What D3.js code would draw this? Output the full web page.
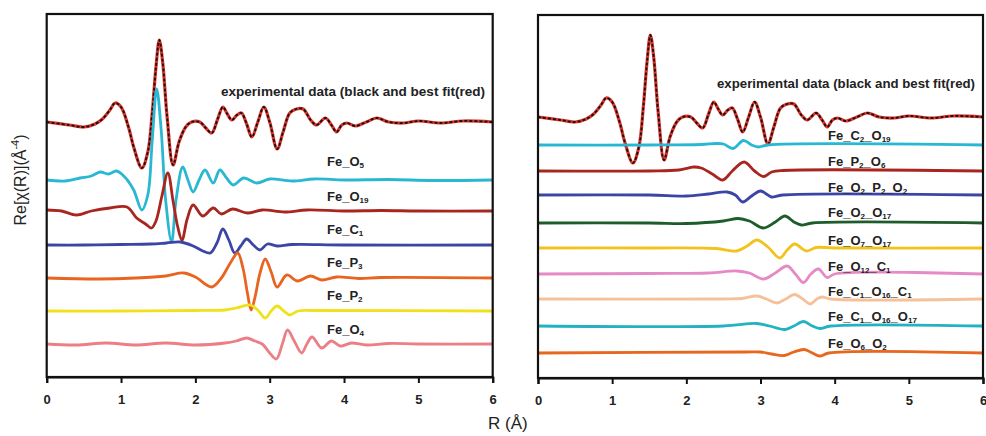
<!DOCTYPE html>
<html><head><meta charset="utf-8">
<script src="https://cdn.jsdelivr.net/npm/d3@7"></script>
<style>body{margin:0;background:#fff}svg{display:block;background:#fff}</style>
</head><body><svg id="c" width="986" height="436"></svg>
<script>
// ---------- data ----------
const rTicks = [0, 1, 2, 3, 4, 5, 6];

// experimental data / best fit (same in both panels)
const expData = [[0,0],[0.3,-0.3],[0.5,-0.5],[0.65,-0.2],[0.75,0.3],[0.85,1.2],[0.92,1.9],[1.0,1.5],[1.1,-0.5],[1.17,-2.5],[1.28,-4.6],[1.36,-3.0],[1.42,1.0],[1.47,5.5],[1.515,8.2],[1.56,6.0],[1.62,0.5],[1.70,-4.3],[1.78,-2.0],[1.87,-0.5],[1.95,0.0],[2.06,0.0],[2.14,-0.6],[2.22,-1.1],[2.30,0.3],[2.37,1.5],[2.43,0.8],[2.49,0.2],[2.56,0.7],[2.62,0.9],[2.69,-0.2],[2.76,-1.5],[2.84,0.0],[2.92,1.5],[3.0,0.0],[3.10,-2.7],[3.18,-1.0],[3.27,0.9],[3.36,1.3],[3.45,1.3],[3.55,0.2],[3.63,-0.3],[3.75,0.4],[3.83,-0.3],[3.90,-1.0],[3.97,-0.3],[4.04,-0.1],[4.15,-0.4],[4.3,0.0],[4.44,0.4],[4.6,0.0],[4.8,-0.1],[5.0,0.1],[5.3,-0.1],[5.6,0.1],[6.0,0.0]];

// left panel paths
const feO5  = [[0,0],[0.25,-0.1],[0.45,0.2],[0.6,0.4],[0.72,0.8],[0.83,0.6],[0.94,0.9],[1.05,0.3],[1.17,-1.0],[1.28,-3.0],[1.36,-1.5],[1.42,4.0],[1.48,9.1],[1.54,5.0],[1.60,-2.0],[1.68,-6.2],[1.74,-2.0],[1.83,1.3],[1.90,0.0],[1.97,-1.2],[2.05,0.0],[2.13,1.0],[2.24,-0.3],[2.33,1.0],[2.42,0.2],[2.51,-0.5],[2.65,0.2],[2.83,-0.3],[3.0,0.1],[3.3,-0.1],[3.6,0.1],[4.0,0.0],[4.6,0.05],[5.2,-0.05],[6.0,0.0]];
const feO19 = [[0,0.1],[0.2,0.0],[0.4,-0.4],[0.6,0.0],[0.85,0.3],[1.08,0.4],[1.21,-0.7],[1.33,-1.3],[1.41,-1.7],[1.47,-1.0],[1.55,1.5],[1.63,3.8],[1.70,1.0],[1.76,-1.5],[1.82,-2.9],[1.89,-0.8],[1.97,0.6],[2.1,-0.5],[2.24,0.3],[2.35,-0.3],[2.5,0.2],[2.7,-0.2],[2.9,0.1],[3.2,-0.1],[3.5,0.1],[4.0,0.0],[4.5,0.05],[5.0,0.0],[6.0,0.0]];
const feC1  = [[0,0],[0.5,0],[1.0,0.05],[1.4,0.1],[1.61,0.2],[1.8,0.3],[1.97,-0.1],[2.1,-0.6],[2.2,-0.8],[2.29,0.2],[2.37,1.6],[2.45,0.5],[2.53,-0.8],[2.61,-0.1],[2.69,0.6],[2.78,0.0],[2.87,-0.5],[2.97,0.1],[3.1,-0.1],[3.3,0.05],[4.0,0],[6.0,0]];
const feP3  = [[0,0],[0.7,-0.1],[1.2,0.0],[1.6,0.2],[1.84,0.5],[2.0,0.1],[2.22,-0.9],[2.35,0.0],[2.47,1.5],[2.57,2.5],[2.64,1.0],[2.70,-1.5],[2.75,-3.2],[2.80,-2.0],[2.87,0.5],[2.94,1.9],[3.02,0.6],[3.10,-0.9],[3.23,0.3],[3.37,-0.3],[3.55,0.2],[3.7,-0.2],[3.9,0.1],[4.2,-0.05],[4.5,0.05],[6.0,0]];
const feP2  = [[0,0],[1.0,0],[2.0,0.05],[2.4,0.1],[2.55,0.3],[2.74,0.6],[2.85,0.0],[2.94,-0.7],[3.02,0.0],[3.10,0.5],[3.19,0.0],[3.27,-0.4],[3.38,0.0],[3.6,0.05],[6.0,0]];
const feO4  = [[0,0],[0.4,-0.1],[0.8,0.1],[1.2,-0.1],[1.6,0.1],[2.0,-0.1],[2.4,0.1],[2.55,0.3],[2.69,0.6],[2.8,0.3],[2.9,0.0],[3.0,-0.9],[3.09,-1.5],[3.17,0.0],[3.24,1.4],[3.33,0.3],[3.43,-0.9],[3.50,0.0],[3.57,0.7],[3.70,-0.4],[3.83,0.3],[3.95,-0.2],[4.1,0.1],[4.3,-0.1],[4.6,0.05],[5.0,0],[6.0,0]];

// right panel paths
const feC2O19    = [[0,0],[1.5,0],[2.2,0.05],[2.4,0.15],[2.5,0.1],[2.63,-0.35],[2.77,0.45],[2.88,0.0],[2.97,-0.2],[3.1,0.0],[6,0]];
const feP2O6     = [[0,0],[1.5,0],[1.9,0.1],[2.1,0.4],[2.2,0.3],[2.35,-0.3],[2.49,-0.9],[2.62,0.0],[2.78,0.9],[2.92,0.0],[3.04,-0.55],[3.15,-0.1],[3.3,0.05],[6,0]];
const feO2P2O2   = [[0,0],[1.5,0],[2.0,-0.1],[2.3,0.1],[2.55,0.3],[2.66,0.0],[2.76,-0.7],[2.88,-0.1],[3.0,0.4],[3.1,0.0],[3.15,-0.2],[3.3,0.0],[6,0]];
const feO2O17    = [[0,0],[1.5,0],[2.0,-0.05],[2.5,0.2],[2.7,0.45],[2.85,0.2],[3.04,-0.5],[3.2,0.1],[3.33,0.7],[3.45,0.1],[3.55,-0.2],[3.7,0.0],[6,0]];
const feO7O17    = [[0,0],[1.5,0],[2.4,-0.05],[2.68,-0.3],[2.82,0.2],[2.95,0.8],[3.1,0.1],[3.26,-1.0],[3.36,-0.2],[3.46,0.4],[3.62,-0.3],[3.75,0.05],[4.0,0],[6,0]];
const feO12C1    = [[0,0],[1.5,0.05],[2.3,0.1],[2.68,0.3],[2.85,0.1],[3.04,-0.5],[3.2,0.1],[3.36,0.8],[3.47,0.0],[3.58,-0.85],[3.68,0.0],[3.78,0.5],[3.9,-0.35],[4.0,0.0],[6,0]];
const feC1O16C1  = [[0,0],[2.5,0.0],[2.75,0.05],[2.95,0.3],[3.08,0.0],[3.22,-0.4],[3.34,0.0],[3.46,0.45],[3.57,0.0],[3.67,-0.5],[3.76,0.0],[3.83,0.2],[3.95,0.0],[6,0]];
const feC1O16O17 = [[0,0],[2.5,0.0],[2.95,0.25],[3.12,0.0],[3.33,-0.35],[3.45,0.0],[3.58,0.45],[3.7,0.0],[3.8,-0.25],[3.95,0.0],[6,0]];
const feO6O2     = [[0,0],[2.8,0.1],[3.0,0.1],[3.15,-0.1],[3.32,-0.25],[3.45,0.1],[3.59,0.35],[3.7,0.0],[3.80,-0.3],[3.92,0.0],[6,0]];

const leftNames  = ["Fe_O~5","Fe_O~19","Fe_C~1","Fe_P~3","Fe_P~2","Fe_O~4"];
const leftSeries = [feO5, feO19, feC1, feP3, feP2, feO4];
const leftOffsets = [19.7, 16.6, 13.2, 9.9, 6.6, 3.3];
const leftExpOffset = 25.5;
const leftColors = ["#2ab7d2","#a8261f","#3b45a6","#e8641f","#efe21c","#ec7f86"];

const rightNames  = ["Fe_C~2_O~19","Fe_P~2_O~6","Fe_O~2_P~2_O~2","Fe_O~2_O~17","Fe_O~7_O~17","Fe_O~12_C~1","Fe_C~1_O~16_C~1","Fe_C~1_O~16_O~17","Fe_O~6_O~2"];
const rightSeries = [feC2O19, feP2O6, feO2P2O2, feO2O17, feO7O17, feO12C1, feC1O16C1, feC1O16O17, feO6O2];
const rightOffsets = [23.3, 20.7, 18.3, 15.5, 13.0, 10.4, 7.9, 5.2, 2.5];
const rightExpOffset = 26.1;
const rightColors = ["#27b8d3","#a8261f","#3b45a6","#1e5c2b","#f2c31c","#e68ac6","#f5c09a","#22b2c2","#e8661d"];

const expLabel = "experimental data (black and best fit(red)";

// ---------- drawing ----------
const svg = d3.select("#c");
svg.append("rect").attr("width",986).attr("height",436).attr("fill","#fff");

function addLabel(g, str, x, y, size){
  const t = g.append("text").attr("x",x).attr("y",y)
    .attr("font-family","Liberation Sans, Arial, sans-serif").attr("font-weight","bold")
    .attr("font-size",size).attr("fill","#222").attr("dominant-baseline","middle");
  const parts = str.split(/~(\d+)/);
  parts.forEach((p,i)=>{
    if(!p) return;
    if(i%2===1){
      t.append("tspan").attr("font-size",size*0.62).attr("dy",3).text(p);
    } else {
      const ts = t.append("tspan").text(p);
      if(i>0) ts.attr("dy",-3);
    }
  });
}

function panel(cfg){
  const x = d3.scaleLinear().domain([0,6]).range([cfg.x0, cfg.x1]);
  const y = d3.scaleLinear().domain([0,36.3]).range([cfg.y1, cfg.y0]);
  const g = svg.append("g");
  const line = off => d3.line().x(d=>x(d[0])).y(d=>y(d[1]+off)).curve(d3.curveCatmullRom.alpha(0.5));

  // experimental + fit
  g.append("path").datum(expData).attr("d",line(cfg.expOff)).attr("fill","none")
    .attr("stroke","#e0352c").attr("stroke-width",3.2);
  g.append("path").datum(expData).attr("d",line(cfg.expOff)).attr("fill","none")
    .attr("stroke","#111").attr("stroke-width",1.8).attr("stroke-dasharray","3,2");

  cfg.series.forEach((s,i)=>{
    g.append("path").datum(s).attr("d",line(cfg.offsets[i])).attr("fill","none")
      .attr("stroke",cfg.colors[i]).attr("stroke-width",2.8).attr("stroke-linejoin","round");
  });

  // frame
  g.append("rect").attr("x",cfg.x0).attr("y",cfg.y0).attr("width",cfg.x1-cfg.x0).attr("height",cfg.y1-cfg.y0)
    .attr("fill","none").attr("stroke","#111").attr("stroke-width",2.2);

  // bottom axis
  const ax = g.append("g").attr("transform",`translate(0,${cfg.y1})`)
    .call(d3.axisBottom(x).tickValues(rTicks).tickFormat(d3.format("d")).tickSize(6).tickPadding(12));
  ax.select(".domain").attr("stroke","#111").attr("stroke-width",2.2);
  ax.selectAll(".tick line").attr("stroke","#111").attr("stroke-width",2);
  ax.selectAll(".tick text").attr("font-family","Liberation Sans, Arial, sans-serif")
    .attr("font-weight","bold").attr("font-size",13).attr("fill","#222");

  // labels
  g.append("text").attr("x",cfg.expLx).attr("y",cfg.expLy).attr("dominant-baseline","middle")
    .attr("font-family","Liberation Sans, Arial, sans-serif").attr("font-weight","bold")
    .attr("font-size",12).attr("fill","#222").attr("textLength",cfg.expLw).attr("lengthAdjust","spacingAndGlyphs")
    .text(expLabel);
  cfg.names.forEach((n,i)=> addLabel(g, n, cfg.labX, cfg.labY[i], 13));
}

panel({x0:46.7, x1:492.7, y0:14, y1:377, expOff:leftExpOffset, series:leftSeries, offsets:leftOffsets,
  colors:leftColors, names:leftNames, labX:327, labY:[163,198,231,264,297,331],
  expLx:221, expLy:93, expLw:264});
panel({x0:538, x1:983, y0:15, y1:378, expOff:rightExpOffset, series:rightSeries, offsets:rightOffsets,
  colors:rightColors, names:rightNames, labX:828, labY:[137,163,189,214,242,268,293,318,345],
  expLx:717, expLy:85, expLw:258});

// axis titles
svg.append("text").attr("x",488).attr("y",425).attr("dominant-baseline","middle")
  .attr("font-family","Liberation Sans, Arial, sans-serif").attr("font-size",17).attr("fill","#222")
  .text("R (Å)");
const yl = svg.append("text").attr("transform","translate(22,180) rotate(-90)")
  .attr("text-anchor","middle").attr("dominant-baseline","middle")
  .attr("font-family","Liberation Sans, Arial, sans-serif").attr("font-size",16).attr("fill","#222");
yl.append("tspan").text("Re[χ(R)](Å");
yl.append("tspan").attr("font-size",11).attr("dy",-6).text("-4");
yl.append("tspan").attr("dy",6).text(")");
</script></body></html>
